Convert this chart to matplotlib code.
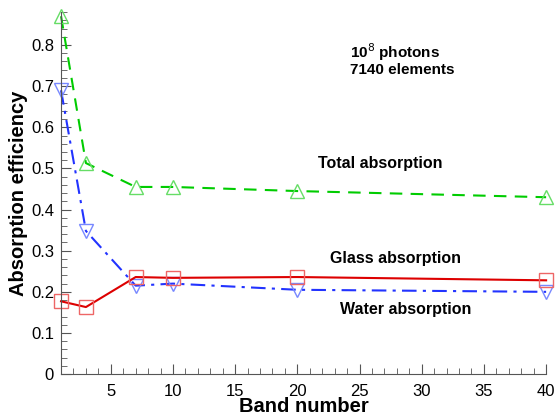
import matplotlib
matplotlib.use("Agg")
import matplotlib.pyplot as plt
from matplotlib.ticker import MultipleLocator

plt.rcParams['font.family'] = ['Liberation Sans', 'DejaVu Sans']

# band numbers and absorption efficiencies
bands = [1, 3, 7, 10, 20, 40]
total_abs = [0.870, 0.513, 0.455, 0.455, 0.445, 0.430]
water_abs = [0.690, 0.348, 0.215, 0.220, 0.205, 0.200]
glass_abs = [0.177, 0.163, 0.236, 0.234, 0.236, 0.228]

fig = plt.figure(figsize=(5.55, 4.18), dpi=100)
ax = fig.add_axes([0.110, 0.105, 0.874, 0.866])

ax.plot(bands, total_abs, color='#00cc00', ls=(0, (6, 4)), lw=1.5,
        marker='^', ms=10, mfc='none', mec='#66dd66', mew=1.0)
ax.plot(bands, water_abs, color='#2233ff', ls=(0, (7, 3, 1.5, 3)), lw=1.5,
        marker='v', ms=10, mfc='none', mec='#7788ff', mew=1.0)
ax.plot(bands, glass_abs, color='#dd0000', ls='-', lw=1.5,
        marker='s', ms=10, mfc='none', mec='#ee6666', mew=1.0)

ax.set_xlim(1, 40)
ax.set_ylim(0, 0.88)
ax.xaxis.set_major_locator(MultipleLocator(5))
ax.xaxis.set_minor_locator(MultipleLocator(1))
ax.yaxis.set_major_locator(MultipleLocator(0.1))
ax.yaxis.set_minor_locator(MultipleLocator(0.02))
ax.set_xticks([5, 10, 15, 20, 25, 30, 35, 40])
ax.set_yticks([0, 0.1, 0.2, 0.3, 0.4, 0.5, 0.6, 0.7, 0.8])
ax.set_yticklabels(['0', '0.1', '0.2', '0.3', '0.4', '0.5', '0.6', '0.7', '0.8'])
ax.tick_params(which='both', direction='in', labelsize=12, color='#555555')
ax.tick_params(axis='x', pad=7)
ax.tick_params(axis='y', pad=5)
ax.tick_params(which='major', length=7)
ax.tick_params(which='minor', length=4)
for s in ['top', 'right']:
    ax.spines[s].set_visible(False)
for s in ['left', 'bottom']:
    ax.spines[s].set_color('#555555')
for ln in ax.lines:
    ln.set_clip_on(False)

ax.set_xlabel('Band number', fontsize=14.5, fontweight='bold', labelpad=-1)
ax.set_ylabel('Absorption efficiency', fontsize=14.5, fontweight='bold', labelpad=2)

ax.text(24.2, 0.782, r'10$^{8}$ photons', fontsize=11, fontweight='bold', va='center')
ax.text(24.2, 0.739, '7140 elements', fontsize=11, fontweight='bold', va='center')
ax.text(26.7, 0.513, 'Total absorption', fontsize=11.5, fontweight='bold', ha='center', va='center')
ax.text(27.9, 0.282, 'Glass absorption', fontsize=11.5, fontweight='bold', ha='center', va='center')
ax.text(28.7, 0.156, 'Water absorption', fontsize=11.5, fontweight='bold', ha='center', va='center')

fig.savefig('out.png', dpi=100)
